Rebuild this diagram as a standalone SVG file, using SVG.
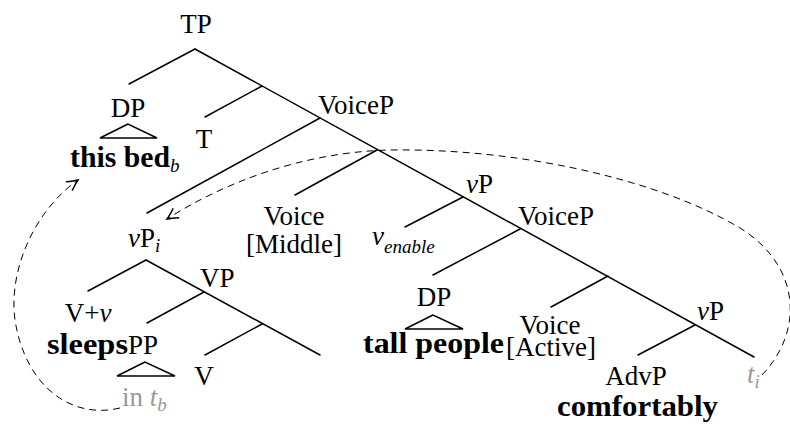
<svg xmlns="http://www.w3.org/2000/svg" width="790" height="425" viewBox="0 0 790 425">
<defs>
<style>
text{font-family:"Liberation Serif","Times New Roman",serif;font-size:27px;fill:#000}
.b{font-weight:bold;font-size:30px}
.i{font-style:italic}
.sub{font-style:italic;font-size:19px}
.g{fill:#999}
.e{stroke:#000;stroke-width:1.5;fill:none;stroke-linecap:round}
.tri{stroke:#000;stroke-width:1.5;fill:none;stroke-linejoin:miter}
.mv{stroke:#000;stroke-width:1;fill:none;stroke-dasharray:7 5}
</style>
<marker id="ah" markerWidth="16" markerHeight="16" refX="0" refY="0" viewBox="-13 -8 16 16" orient="auto" markerUnits="userSpaceOnUse">
<path d="M-11,-5.5 Q-4,-1.5 0,0 Q-4,1.5 -11,5.5" fill="none" stroke="#000" stroke-width="1.4"/>
</marker>
</defs>
<g id="edges">
<path class="e" d="M195,49 L129,84"/>
<path class="e" d="M195,49 L754,357"/>
<path class="e" d="M262,86 L205,117"/>
<path class="e" d="M320,118 L147,213"/>
<path class="e" d="M377,150 L295,195"/>
<path class="e" d="M463,197 L405,227"/>
<path class="e" d="M520,229 L433,275"/>
<path class="e" d="M608,276 L551,307"/>
<path class="e" d="M695,325 L638,355"/>
<path class="e" d="M146,260 L88,291"/>
<path class="e" d="M146,260 L320,355"/>
<path class="e" d="M204,292 L147,323"/>
<path class="e" d="M262,324 L205,355"/>
<path class="tri" d="M128,124 L100,138 L157,138 Z"/>
<path class="tri" d="M433,315 L405,329 L463,329 Z"/>
<path class="tri" d="M145,362 L117,376 L175,376 Z"/>
<path class="mv" marker-end="url(#ah)" d="M762,375 C805,330 800,265 740,228 C660,180 520,148 390,150 C300,152 220,185 167,219"/>
<path class="mv" marker-end="url(#ah)" d="M120,408 C70,420 25,385 15,320 C8,270 35,210 78,180"/>
</g>
<g id="TP"><text x="196" y="33" text-anchor="middle">TP</text></g>
<g id="DP1"><text x="128" y="117" text-anchor="middle">DP</text></g>
<g id="thisbed"><text x="70" y="167"><tspan class="b" textLength="100" lengthAdjust="spacingAndGlyphs">this bed</tspan><tspan class="sub" dy="5">b</tspan></text></g>
<g id="T"><text x="204" y="148" text-anchor="middle">T</text></g>
<g id="VoiceP1"><text x="318" y="114">VoiceP</text></g>
<g id="VoiceMiddle"><text x="294" y="225" text-anchor="middle">Voice</text><text x="294" y="253" text-anchor="middle">[Middle]</text></g>
<g id="venable"><text x="372" y="245"><tspan class="i">v</tspan><tspan class="sub" dy="8">enable</tspan></text></g>
<g id="vP1"><text x="466" y="193"><tspan class="i">v</tspan>P</text></g>
<g id="VoiceP2"><text x="518" y="225">VoiceP</text></g>
<g id="DP2"><text x="434" y="306" text-anchor="middle">DP</text></g>
<g id="tallpeople"><text x="363" y="353" class="b" textLength="141" lengthAdjust="spacingAndGlyphs">tall people</text></g>
<g id="VoiceActive"><text x="550" y="334" text-anchor="middle">Voice</text><text x="551" y="356" text-anchor="middle">[Active]</text></g>
<g id="vP3"><text x="697" y="320"><tspan class="i">v</tspan>P</text></g>
<g id="AdvP"><text x="636" y="385" text-anchor="middle">AdvP</text></g>
<g id="comfortably"><text x="557" y="416" class="b" textLength="161" lengthAdjust="spacingAndGlyphs">comfortably</text></g>
<g id="ti"><text x="747" y="383" class="g"><tspan class="i">t</tspan><tspan class="sub" dy="5">i</tspan></text></g>
<g id="vPi"><text x="128" y="247"><tspan class="i">v</tspan>P<tspan class="sub" dy="5">i</tspan></text></g>
<g id="VP"><text x="200" y="287">VP</text></g>
<g id="Vv"><text x="88" y="322" text-anchor="middle">V+<tspan class="i">v</tspan></text></g>
<g id="sleeps"><text x="47" y="354"><tspan class="b" textLength="81" lengthAdjust="spacingAndGlyphs">sleeps</tspan>PP</text></g>
<g id="V"><text x="204" y="385" text-anchor="middle">V</text></g>
<g id="intb"><text x="122" y="406" class="g">in <tspan class="i">t</tspan><tspan class="sub" dy="5">b</tspan></text></g>
</svg>
